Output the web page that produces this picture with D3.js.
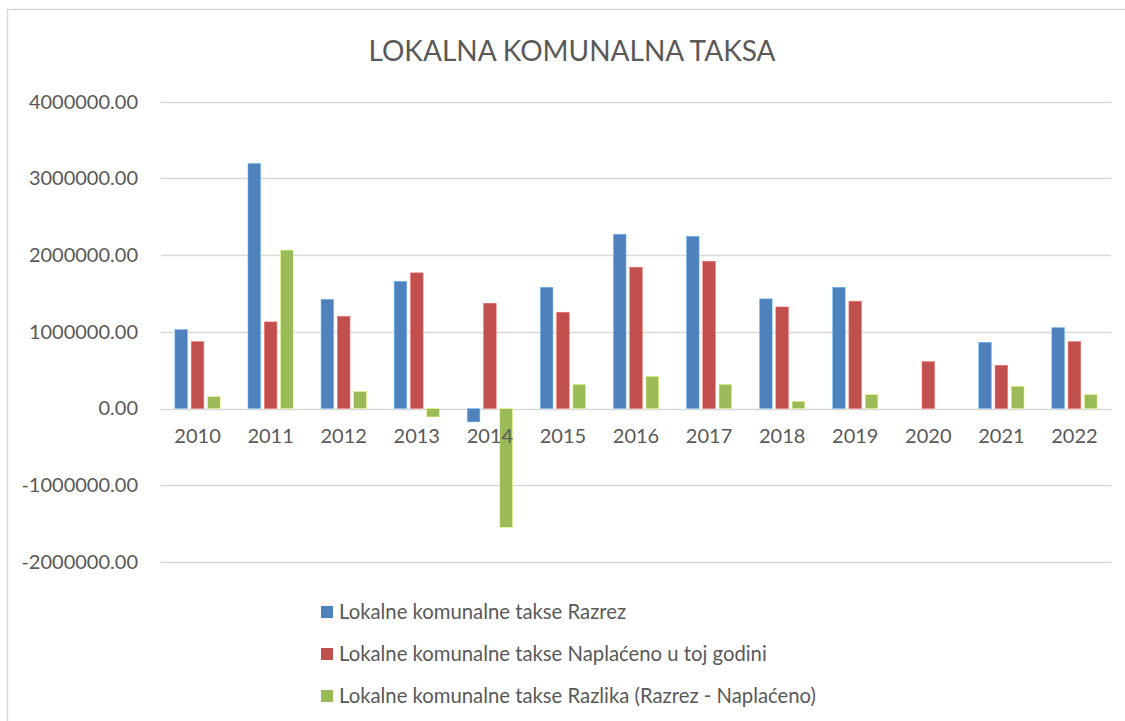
<!DOCTYPE html>
<html>
<head>
<meta charset="utf-8">
<script src="https://cdn.jsdelivr.net/npm/d3@7"></script>
<style>
  body { margin: 0; background: #fff; }
  svg text { font-family: Lato, "Open Sans", sans-serif; fill: #595959; }
</style>
</head>
<body>
<div id="chart"></div>
<script>
// Chart data
var years   = ["2010", "2011", "2012", "2013", "2014", "2015", "2016", "2017", "2018", "2019", "2020", "2021", "2022"]
var razrez  = [1030000, 3196000, 1426000, 1660000, -174000, 1582000, 2273000, 2247000, 1430000, 1582000, 0, 865000, 1056000]
var naplaceno = [874000, 1130000, 1204000, 1769000, 1374000, 1256000, 1843000, 1921000, 1325000, 1400000, 613000, 565000, 874000]
var razlika = [156000, 2066000, 222000, -109000, -1548000, 317000, 421000, 317000, 95000, 182000, 0, 291000, 182000]
var yTicks  = [-2000000, -1000000, 0, 1000000, 2000000, 3000000, 4000000]
var seriesNames = [
  "Lokalne komunalne takse Razrez",
  "Lokalne komunalne takse Naplaćeno u toj godini",
  "Lokalne komunalne takse Razlika (Razrez - Naplaćeno)"
]
var colours = ["#4F81BD", "#C0504D", "#9BBB59"]

var W = 1125, H = 721
var plotLeft = 161, plotRight = 1111, plotTop = 101.7, plotBottom = 562

var svg = d3.select("#chart").append("svg")
            .attr("width", W)
            .attr("height", H)

// Outer chart border (cropped at right and bottom like the source)
svg.append("path")
   .attr("d", "M7.5," + H + "V9.5H" + W)
   .attr("fill", "none")
   .attr("stroke", "#d9d9d9")
   .attr("stroke-width", 1.5)

// Title
svg.append("text")
   .attr("x", 572)
   .attr("y", 61)
   .attr("text-anchor", "middle")
   .style("font-size", "28px")
   .text("LOKALNA KOMUNALNA TAKSA")

// Scales
var x = d3.scaleBand().domain(years).range([plotLeft, plotRight])
var y = d3.scaleLinear().domain([-2000000, 4000000]).range([plotBottom, plotTop])

// Gridlines
svg.append("g")
   .selectAll("line")
   .data(yTicks)
   .enter().append("line")
     .attr("x1", plotLeft)
     .attr("x2", plotRight)
     .attr("y1", function (d) { return Math.round(y(d)) + 0.5 })
     .attr("y2", function (d) { return Math.round(y(d)) + 0.5 })
     .attr("stroke", "#d9d9d9")
     .attr("stroke-width", 1.5)

// Y axis labels (plain hyphen for negatives, like the source)
var fmt = d3.format(".2f")
var yAxis = d3.axisLeft(y)
              .tickValues(yTicks)
              .tickSize(0)
              .tickPadding(23)
              .tickFormat(function (d) { return fmt(d).replace("\u2212", "-") })
var gy = svg.append("g")
            .attr("transform", "translate(" + plotLeft + ",0)")
            .call(yAxis)
gy.select(".domain").remove()
gy.selectAll("text")
  .style("font-size", "20px")
  .style("font-family", "Lato, sans-serif")
  .attr("fill", "#595959")

// Series
var series = [razrez, naplaceno, razlika]
var barW = 12.7, step = 16.3
var offset0 = x.bandwidth() / 2 - step - barW / 2

series.forEach(function (vals, s) {
  svg.append("g")
     .selectAll("rect")
     .data(vals)
     .enter().append("rect")
       .attr("x", function (d, i) { return x(years[i]) + offset0 + s * step })
       .attr("y", function (d) { return y(Math.max(0, d)) })
       .attr("width", barW)
       .attr("height", function (d) { return Math.abs(y(d) - y(0)) })
       .attr("fill", colours[s])
       .attr("stroke", d3.color(colours[s]).brighter(1.2))
       .attr("stroke-width", 0.5)
})

// X axis labels at the zero line
var xAxis = d3.axisBottom(x).tickSize(0).tickPadding(20)
var gx = svg.append("g")
            .attr("transform", "translate(0," + y(0) + ")")
            .call(xAxis)
gx.select(".domain").remove()
gx.selectAll("text")
  .style("font-size", "20px")
  .style("font-family", "Lato, sans-serif")
  .attr("fill", "#595959")

// Legend
var legend = svg.append("g")
seriesNames.forEach(function (name, i) {
  var ly = 606 + i * 42
  legend.append("rect")
        .attr("x", 321)
        .attr("y", ly)
        .attr("width", 12)
        .attr("height", 12)
        .attr("fill", colours[i])
  legend.append("text")
        .attr("x", 339)
        .attr("y", ly + 13)
        .style("font-size", "20.3px")
        .text(name)
})
</script>
</body>
</html>
